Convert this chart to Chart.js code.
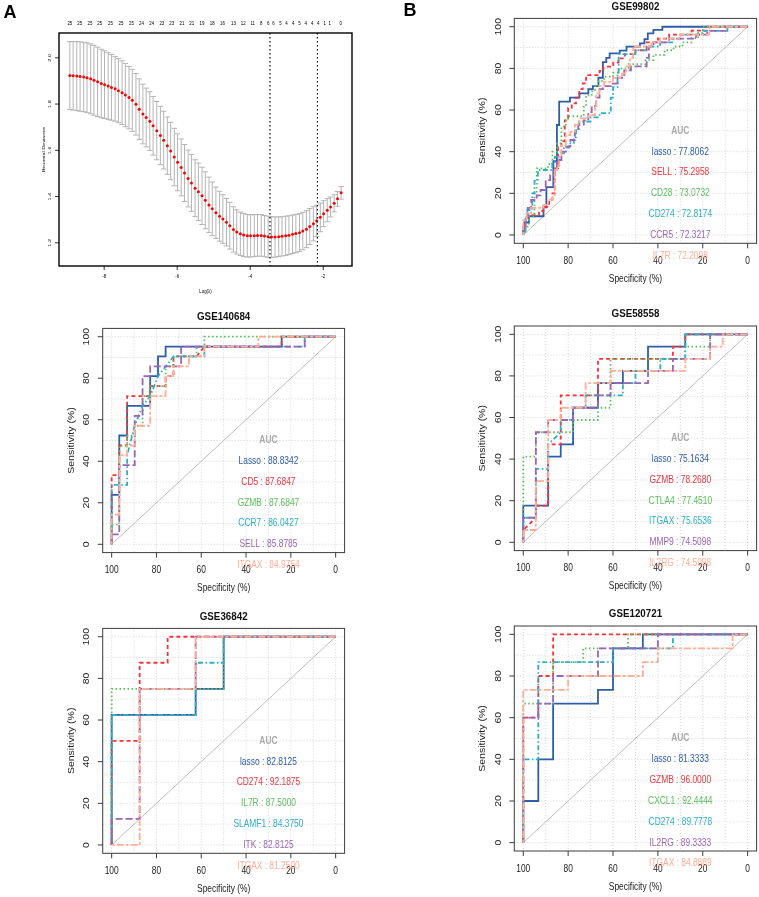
<!DOCTYPE html>
<html>
<head>
<meta charset="utf-8">
<script src="https://cdn.jsdelivr.net/npm/chart.js@4.4.1/dist/chart.umd.min.js"></script>
<style>
html,body{margin:0;padding:0;background:#ffffff;}
#wrap{position:relative;width:759px;height:897px;overflow:hidden;background:#fff;}
#wrap canvas{position:absolute;left:0;top:0;}
</style>
</head>
<body>
<div id="wrap">
<canvas id="cA" width="759" height="897"></canvas>
<canvas id="c1" width="759" height="897"></canvas>
<canvas id="c2" width="759" height="897"></canvas>
<canvas id="c3" width="759" height="897"></canvas>
<canvas id="c4" width="759" height="897"></canvas>
<canvas id="c5" width="759" height="897"></canvas>
</div>
<script>
// ===================== DATA =====================
// Panel A: LASSO cross-validation
const logLambda = [-8.94,-8.85,-8.75,-8.66,-8.56,-8.47,-8.37,-8.28,-8.18,-8.08,
  -7.99,-7.89,-7.80,-7.70,-7.61,-7.51,-7.42,-7.32,-7.23,-7.13,
  -7.04,-6.94,-6.85,-6.75,-6.66,-6.56,-6.46,-6.37,-6.27,-6.18,
  -6.08,-5.99,-5.89,-5.80,-5.70,-5.61,-5.51,-5.42,-5.32,-5.23,
  -5.13,-5.04,-4.94,-4.84,-4.75,-4.65,-4.56,-4.46,-4.37,-4.27,
  -4.18,-4.08,-3.99,-3.89,-3.80,-3.70,-3.61,-3.51,-3.42,-3.32,
  -3.22,-3.13,-3.03,-2.94,-2.84,-2.75,-2.65,-2.56,-2.46,-2.37,
  -2.27,-2.18,-2.08,-1.99,-1.89,-1.80,-1.70,-1.61,-1.51];
const cvm = [1.923,1.922,1.921,1.919,1.917,1.914,1.909,1.903,1.896,1.889,
  1.884,1.878,1.872,1.866,1.858,1.849,1.839,1.828,1.816,1.799,
  1.778,1.757,1.742,1.726,1.706,1.685,1.664,1.644,1.620,1.597,
  1.571,1.548,1.526,1.502,1.478,1.459,1.436,1.421,1.403,1.384,
  1.364,1.347,1.330,1.315,1.303,1.289,1.274,1.258,1.247,1.239,
  1.234,1.230,1.230,1.231,1.232,1.232,1.229,1.226,1.225,1.225,
  1.226,1.228,1.230,1.233,1.237,1.240,1.244,1.251,1.259,1.270,
  1.282,1.295,1.310,1.326,1.341,1.355,1.371,1.390,1.416];
const cvsd = [0.147,0.148,0.149,0.150,0.150,0.151,0.151,0.151,0.150,0.148,
  0.146,0.144,0.142,0.140,0.139,0.138,0.137,0.135,0.134,0.133,
  0.131,0.129,0.127,0.127,0.127,0.126,0.126,0.125,0.124,0.124,
  0.124,0.123,0.123,0.123,0.123,0.123,0.123,0.124,0.124,0.123,
  0.120,0.116,0.111,0.108,0.105,0.103,0.101,0.098,0.096,0.094,
  0.093,0.092,0.091,0.091,0.090,0.090,0.089,0.089,0.088,0.087,
  0.086,0.085,0.085,0.084,0.083,0.083,0.082,0.081,0.080,0.078,
  0.074,0.068,0.062,0.056,0.050,0.043,0.037,0.032,0.027];
const lambdaLines = [-3.46, -2.16];
const nzeroPos = [-8.94,-8.67,-8.39,-8.12,-7.83,-7.54,-7.25,-6.98,-6.70,-6.42,-6.15,-5.87,-5.60,-5.32,-5.04,-4.76,
  -4.46,-4.19,-3.93,-3.70,-3.51,-3.36,-3.17,-3.01,-2.82,-2.65,-2.48,-2.30,-2.14,-1.96,-1.82,-1.52];
const nzeroLabels = ['25','25','25','25','25','25','25','24','24','23','23','21','21','19','18','16',
  '13','12','11','8','6','6','5','4','4','5','4','4','4','1','1','0'];
const devTicks = [1.2,1.4,1.6,1.8,2.0];
const logTicks = [-8,-6,-4,-2];

// ROC shared
const rocTicks = [0,20,40,60,80,100];
const rocGrid = [0,10,20,30,40,50,60,70,80,90,100];
const diagonal = [[100,0],[0,100]];

// GSE99802
const gse99802Genes = ['lasso','SELL','CD28','CD274','CCR5','IL7R'];
const gse99802Auc = ['77.8062','75.2958','73.0732','72.8174','72.3217','72.2098'];
const gse99802Lasso = [[100,0],[100,2],[99.5,2],[99.5,6],[97.5,6],[97.5,9],[91,9],[91,13.3],[89.7,13.3],[89.7,23],[86.6,23],[86.6,35.5],[85,35.5],[85,52.8],[84,52.8],[84,64],[79.2,64],[79.2,66],[75,66],[75,68],[71,68],[71,70],[69,70],[69,71.5],[66.5,71.5],[66.5,75.5],[64.5,75.5],[64.5,83],[63,83],[63,85],[61.5,85],[61.5,87.2],[57,87.2],[57,88.5],[54,88.5],[54,90.4],[48,90.4],[48,92],[46,92],[46,94],[44.5,94],[44.5,96.8],[42,96.8],[42,98.5],[38,98.5],[38,100],[0,100]];
const gse99802Sell = [[100,0],[100,4],[99,4],[99,8],[98,8],[98,9.5],[93,9.5],[93,11.5],[91,11.5],[91,13.5],[88.5,13.5],[88.5,17],[87,17],[87,20],[86,20],[86,32],[84.5,32],[84.5,42],[83,42],[83,45],[81.5,45],[81.5,55],[80,55],[80,61],[78.4,61],[78.4,63.2],[76.5,63.2],[76.5,66],[75,66],[75,70],[73.5,70],[73.5,72.8],[72,72.8],[72,76.8],[66,76.8],[66,78.8],[64.3,78.8],[64.3,80.8],[59.9,80.8],[59.9,82.8],[57.6,82.8],[57.6,84.8],[54.7,84.8],[54.7,86.8],[50,86.8],[50,88.7],[45,88.7],[45,92.5],[40,92.5],[40,94.3],[35,94.3],[35,96.2],[25,96.2],[25,98.1],[18,98.1],[18,100],[0,100]];
const gse99802Cd28 = [[100,0],[100,1.5],[99,1.5],[99,4],[97.5,4],[97.5,9],[95,9],[95,20],[94,20],[94,32],[89,32],[89,34],[87,34],[87,40],[85,40],[85,44],[83,44],[83,52],[81,52],[81,55],[80,55],[80,57],[73,57],[73,62],[72,62],[72,67],[69.5,67],[69.5,69],[68,69],[68,71.5],[66.5,71.5],[66.5,74],[64,74],[64,76],[60,76],[60,78],[57.5,78],[57.5,80],[53,80],[53,82],[45.5,82],[45.5,84],[42,84],[42,86.5],[37,86.5],[37,88.7],[33,88.7],[33,90.5],[29,90.5],[29,92.5],[25,92.5],[25,94.5],[22,94.5],[22,97],[20,97],[20,100],[0,100]];
const gse99802Cd274 = [[100,0],[100,2],[99,2],[99,8],[98.2,8],[98.2,12],[96,12],[96,20],[95,20],[95,26],[93.5,26],[93.5,31.2],[87.1,31.2],[87.1,35],[86,35],[86,37.5],[84.8,37.5],[84.8,39.2],[81.9,39.2],[81.9,42],[79.6,42],[79.6,44],[77.5,44],[77.5,47],[76.5,47],[76.5,51],[75,51],[75,54.5],[70,54.5],[70,56.5],[66,56.5],[66,58.5],[61,58.5],[61,66],[60,66],[60,71],[58,71],[58,78],[57.5,78],[57.5,86.8],[50,86.8],[50,88.7],[45,88.7],[45,90.5],[39,90.5],[39,92.5],[33,92.5],[33,94.3],[30,94.3],[30,96.2],[20,96.2],[20,98],[9,98],[9,100],[0,100]];
const gse99802Ccr5 = [[100,0],[100,4],[99,4],[99,8.5],[98,8.5],[98,13],[96.5,13],[96.5,16.8],[94,16.8],[94,19],[92.3,19],[92.3,21.6],[90,21.6],[90,26.4],[88,26.4],[88,28.8],[86,28.8],[86,32],[85,32],[85,36],[83,36],[83,40],[81,40],[81,42.4],[79,42.4],[79,45.6],[77,45.6],[77,50],[75.5,50],[75.5,53],[73,53],[73,55],[71,55],[71,59],[69.5,59],[69.5,62],[67.5,62],[67.5,66],[66,66],[66,70],[64.5,70],[64.5,71.5],[61,71.5],[61,72.7],[58,72.7],[58,75.5],[55,75.5],[55,79],[52,79],[52,81],[45,81],[45,85],[44,85],[44,90.5],[42,90.5],[42,92.5],[35,92.5],[35,94.3],[23,94.3],[23,96.2],[18,96.2],[18,98],[10,98],[10,100],[0,100]];
const gse99802Il7r = [[100,0],[100,7],[98.5,7],[98.5,10.5],[96.5,10.5],[96.5,13],[91,13],[91,14.5],[89,14.5],[89,17],[87,17],[87,19],[86,19],[86,31],[85,31],[85,33],[84,33],[84,37.5],[83,37.5],[83,43],[81,43],[81,48],[79,48],[79,49.5],[77,49.5],[77,53],[75,53],[75,56],[71,56],[71,57.5],[68,57.5],[68,61],[67.5,61],[67.5,68],[66,68],[66,71.5],[64,71.5],[64,73.5],[60,73.5],[60,75.5],[56,75.5],[56,77.5],[54,77.5],[54,81],[52.5,81],[52.5,85],[51,85],[51,90.5],[43,90.5],[43,92.5],[39,92.5],[39,94.3],[30,94.3],[30,96.2],[17,96.2],[17,100],[0,100]];

// GSE140684
const gse140684Genes = ['Lasso','CD5','GZMB','CCR7','SELL','ITGAX'];
const gse140684Auc = ['88.8342','87.6847','87.6847','86.0427','85.8785','84.9754'];
const gse140684Lasso = [[100,0],[100,23.8],[96.6,23.8],[96.6,52.4],[93.1,52.4],[93.1,66.7],[82.8,66.7],[82.8,81],[79.3,81],[79.3,90.5],[75.9,90.5],[75.9,95.2],[24.1,95.2],[24.1,100],[0,100]];
const gse140684Cd5 = [[100,0],[100,33.3],[96.6,33.3],[96.6,47.6],[93.1,47.6],[93.1,71.4],[82.8,71.4],[82.8,76.2],[75.9,76.2],[75.9,81],[72.4,81],[72.4,90.5],[62.1,90.5],[58.6,95.2],[24.1,95.2],[24.1,100],[0,100]];
const gse140684Gzmb = [[100,0],[100,9.5],[96.6,9.5],[96.6,47.6],[93.1,47.6],[93.1,52.4],[89.7,52.4],[89.7,57.1],[86.2,57.1],[86.2,71.4],[82.8,71.4],[82.8,76.2],[75.9,76.2],[75.9,85.7],[72.4,85.7],[72.4,90.5],[62.1,90.5],[62.1,95.2],[58.6,95.2],[58.6,100],[0,100]];
const gse140684Ccr7 = [[100,0],[100,28.6],[93.1,28.6],[93.1,42.9],[89.7,57.1],[86.2,66.7],[82.8,71.4],[79.3,81],[72.4,90.5],[58.6,90.5],[58.6,95.2],[13.8,95.2],[13.8,100],[0,100]];
const gse140684Sell = [[100,0],[100,4.8],[96.6,4.8],[96.6,38.1],[89.7,38.1],[89.7,61.9],[86.2,61.9],[86.2,81],[82.8,81],[82.8,85.7],[69,85.7],[69,95.2],[13.8,95.2],[13.8,100],[0,100]];
const gse140684Itgax = [[100,0],[100,14.3],[96.6,14.3],[96.6,42.9],[93.1,42.9],[93.1,47.6],[89.7,47.6],[89.7,57.1],[82.8,57.1],[82.8,71.4],[75.9,71.4],[75.9,81],[72.4,81],[72.4,85.7],[65.5,85.7],[65.5,90.5],[58.6,90.5],[58.6,95.2],[34.5,95.2],[34.5,100],[0,100]];

// GSE58558
const gse58558Genes = ['lasso','GZMB','CTLA4','ITGAX','MMP9','IL2RG'];
const gse58558Auc = ['75.1634','78.2680','77.4510','75.6536','74.5098','74.5098'];
const gse58558Lasso = [[100,0],[100,17.6],[88.9,17.6],[88.9,41.2],[83.3,41.2],[83.3,47.1],[77.8,47.1],[77.8,64.7],[66.7,64.7],[66.7,76.5],[55.6,76.5],[55.6,82.4],[44.4,82.4],[44.4,94.1],[27.8,94.1],[27.8,100],[0,100]];
const gse58558Gzmb = [[100,0],[100,5.9],[94.4,11.8],[94.4,17.6],[88.9,17.6],[88.9,47.1],[83.3,47.1],[83.3,70.6],[66.7,70.6],[66.7,88.2],[33.3,88.2],[33.3,94.1],[27.8,94.1],[27.8,100],[0,100]];
const gse58558Ctla4 = [[100,0],[100,41.2],[94.4,41.2],[94.4,52.9],[77.8,52.9],[77.8,58.8],[66.7,58.8],[66.7,64.7],[61.1,64.7],[61.1,88.2],[27.8,88.2],[27.8,94.1],[16.7,94.1],[16.7,100],[0,100]];
const gse58558Itgax = [[100,0],[100,11.8],[94.4,11.8],[94.4,35.3],[88.9,35.3],[88.9,47.1],[83.3,52.9],[83.3,58.8],[77.8,58.8],[77.8,64.7],[72.2,64.7],[72.2,70.6],[55.6,70.6],[55.6,76.5],[50,76.5],[50,82.4],[38.9,82.4],[38.9,88.2],[27.8,88.2],[27.8,100],[0,100]];
const gse58558Mmp9 = [[100,0],[100,11.8],[94.4,11.8],[94.4,52.9],[88.9,52.9],[88.9,58.8],[77.8,58.8],[77.8,64.7],[66.7,64.7],[66.7,70.6],[61.1,70.6],[61.1,76.5],[44.4,76.5],[44.4,82.4],[33.3,82.4],[33.3,88.2],[16.7,88.2],[16.7,100],[0,100]];
const gse58558Il2rg = [[100,0],[100,5.9],[94.4,5.9],[94.4,29.4],[88.9,29.4],[88.9,58.8],[83.3,58.8],[83.3,64.7],[72.2,64.7],[72.2,76.5],[61.1,76.5],[61.1,82.4],[27.8,82.4],[27.8,88.2],[16.7,88.2],[16.7,94.1],[11.1,94.1],[11.1,100],[0,100]];

// GSE36842
const gse36842Genes = ['lasso','CD274','IL7R','SLAMF1','ITK','ITGAX'];
const gse36842Auc = ['82.8125','92.1875','87.5000','84.3750','82.8125','81.2500'];
const gse36842Lasso = [[100,0],[100,62.5],[62.5,62.5],[62.5,75],[50,75],[50,100],[0,100]];
const gse36842Cd274 = [[100,0],[100,50],[87.5,50],[87.5,87.5],[75,87.5],[75,100],[0,100]];
const gse36842Il7r = [[100,0],[100,75],[50,75],[50,100],[0,100]];
const gse36842Slamf1 = [[100,0],[100,62.5],[62.5,62.5],[62.5,87.5],[50,87.5],[50,100],[0,100]];
const gse36842Itk = [[100,0],[100,12.5],[87.5,12.5],[87.5,75],[62.5,75],[62.5,100],[0,100]];
const gse36842Itgax = [[100,0],[87.5,0],[87.5,75],[62.5,75],[62.5,100],[0,100]];

// GSE120721
const gse120721Genes = ['lasso','GZMB','CXCL1','CD274','IL2RG','ITGAX'];
const gse120721Auc = ['81.3333','96.0000','92.4444','89.7778','89.3333','84.8889'];
const gse120721Lasso = [[100,0],[100,20],[93.3,20],[93.3,40],[86.7,40],[86.7,66.7],[66.7,66.7],[66.7,73.3],[60,73.3],[60,93.3],[46.7,93.3],[46.7,100],[0,100]];
const gse120721Gzmb = [[100,0],[100,60],[93.3,60],[93.3,80],[86.7,80],[86.7,100],[0,100]];
const gse120721Cxcl1 = [[100,0],[100,66.7],[86.7,66.7],[86.7,86.7],[73.3,86.7],[73.3,93.3],[53.3,93.3],[53.3,100],[0,100]];
const gse120721Cd274 = [[100,0],[100,40],[93.3,40],[93.3,86.7],[60,86.7],[60,93.3],[33.3,93.3],[33.3,100],[0,100]];
const gse120721Il2rg = [[100,0],[100,60],[93.3,60],[93.3,66.7],[86.7,66.7],[86.7,80],[66.7,80],[66.7,93.3],[40,93.3],[40,100],[0,100]];
const gse120721Itgax = [[100,0],[100,73.3],[80,73.3],[80,80],[46.7,80],[46.7,86.7],[40,86.7],[40,93.3],[6.7,93.3],[6.7,100],[0,100]];

// ===================== STYLE / LAYOUT =====================
const FONT = '"Liberation Sans", Arial, Helvetica, sans-serif';
const SX = 0.8;
const curveColors = ['#2D5EA7','#F5333D','#5CBD5C','#2CAEC6','#9B65B5','#FFAE95'];
const curveDashes = [[], [4,3], [1.5,2.5], [1.5,2.5,5,2.5], [7,3], [3,2,7,2]];
const aucGray = '#AAAAAA';

const panels = [
  {id:'c1', title:'GSE99802', genes:gse99802Genes, auc:gse99802Auc,
   curves:[gse99802Lasso,gse99802Sell,gse99802Cd28,gse99802Cd274,gse99802Ccr5,gse99802Il7r],
   pad:{left:514.3, top:18.4, right:2.4, bottom:653.7}, letter:'B'},
  {id:'c2', title:'GSE140684', genes:gse140684Genes, auc:gse140684Auc,
   curves:[gse140684Lasso,gse140684Cd5,gse140684Gzmb,gse140684Ccr7,gse140684Sell,gse140684Itgax],
   pad:{left:102.7, top:328.4, right:414.4, bottom:344.4}},
  {id:'c3', title:'GSE58558', genes:gse58558Genes, auc:gse58558Auc,
   curves:[gse58558Lasso,gse58558Gzmb,gse58558Ctla4,gse58558Itgax,gse58558Mmp9,gse58558Il2rg],
   pad:{left:514.3, top:326, right:2.4, bottom:346.4}},
  {id:'c4', title:'GSE36842', genes:gse36842Genes, auc:gse36842Auc,
   curves:[gse36842Lasso,gse36842Cd274,gse36842Il7r,gse36842Slamf1,gse36842Itk,gse36842Itgax],
   pad:{left:102.7, top:628.4, right:414.4, bottom:43.7}},
  {id:'c5', title:'GSE120721', genes:gse120721Genes, auc:gse120721Auc,
   curves:[gse120721Lasso,gse120721Gzmb,gse120721Cxcl1,gse120721Cd274,gse120721Il2rg,gse120721Itgax],
   pad:{left:514.3, top:626, right:2.4, bottom:46}}
];

function drawText(ctx, s, x, y, size, color, opts) {
  opts = opts || {};
  ctx.save();
  ctx.translate(x, y);
  ctx.scale(opts.sx !== undefined ? opts.sx : SX, 1);
  if (opts.rot) ctx.rotate(-Math.PI / 2);
  ctx.font = (opts.bold ? 'bold ' : '') + size + 'px ' + FONT;
  ctx.fillStyle = color;
  ctx.textAlign = opts.align || 'center';
  ctx.textBaseline = 'middle';
  ctx.fillText(s, 0, 0);
  ctx.restore();
}
function seg(ctx, x1, y1, x2, y2) { ctx.moveTo(x1, y1); ctx.lineTo(x2, y2); }

const baseOptions = (pad, xs, ys) => ({
  responsive: false, animation: false, devicePixelRatio: 1, events: [],
  layout: {padding: pad},
  plugins: {legend: {display: false}, tooltip: {enabled: false}, title: {display: false}},
  scales: {x: Object.assign({type: 'linear', display: false}, xs), y: Object.assign({type: 'linear', display: false}, ys)}
});

// ===================== PANEL A =====================
(function () {
  const xr = Math.max(...logLambda) - Math.min(...logLambda);
  const up = cvm.map((v, i) => v + cvsd[i]);
  const lo = cvm.map((v, i) => v - cvsd[i]);
  const yMin = Math.min(...lo), yMax = Math.max(...up), yr = yMax - yMin;
  const decor = {
    id: 'lassoDecor',
    beforeDatasetsDraw(chart) {
      const {ctx, scales: {x, y}} = chart;
      const barw = xr * 0.01;
      ctx.save();
      ctx.strokeStyle = '#B4B4B4';
      ctx.lineWidth = 1;
      ctx.beginPath();
      logLambda.forEach((lv, i) => {
        const px = x.getPixelForValue(lv);
        const pu = y.getPixelForValue(up[i]);
        const pl = y.getPixelForValue(lo[i]);
        const x0 = x.getPixelForValue(lv - barw), x1 = x.getPixelForValue(lv + barw);
        seg(ctx, px, pu, px, pl);
        seg(ctx, x0, pu, x1, pu);
        seg(ctx, x0, pl, x1, pl);
      });
      ctx.stroke();
      ctx.restore();
    },
    afterDatasetsDraw(chart) {
      const {ctx, chartArea: a, scales: {x}} = chart;
      ctx.save();
      ctx.strokeStyle = '#000';
      ctx.lineWidth = 1.2;
      ctx.setLineDash([1.5, 2.5]);
      ctx.beginPath();
      lambdaLines.forEach(v => { const px = x.getPixelForValue(v); seg(ctx, px, a.top, px, a.bottom); });
      ctx.stroke();
      ctx.restore();
    },
    afterDraw(chart) {
      const {ctx, chartArea: a, scales: {x, y}} = chart;
      ctx.save();
      ctx.strokeStyle = '#000';
      ctx.lineWidth = 1.4;
      ctx.strokeRect(a.left, a.top, a.right - a.left, a.bottom - a.top);
      ctx.lineWidth = 0.8;
      ctx.beginPath();
      logTicks.forEach(v => { const px = x.getPixelForValue(v); seg(ctx, px, a.bottom, px, a.bottom + 4); });
      devTicks.forEach(v => { const py = y.getPixelForValue(v); seg(ctx, a.left - 4, py, a.left, py); });
      ctx.stroke();
      ctx.restore();
      logTicks.forEach(v => drawText(ctx, String(v), x.getPixelForValue(v), a.bottom + 10, 5.5, '#000'));
      devTicks.forEach(v => drawText(ctx, v.toFixed(1), a.left - 9.7, y.getPixelForValue(v), 5.5, '#000', {rot: true}));
      nzeroLabels.forEach((s, i) => drawText(ctx, s, x.getPixelForValue(nzeroPos[i]), a.top - 10, 5.5, '#000'));
      drawText(ctx, 'Log(\u03bb)', (a.left + a.right) / 2, a.bottom + 25, 5.5, '#000');
      drawText(ctx, 'Binomial Deviance', a.left - 15, (a.top + a.bottom) / 2, 5.5, '#000', {rot: true});
      drawText(ctx, 'A', 10, 13, 18, '#000', {bold: true, sx: 1});
    }
  };
  new Chart(document.getElementById('cA'), {
    type: 'scatter',
    data: {datasets: [{
      data: logLambda.map((v, i) => ({x: v, y: cvm[i]})),
      pointRadius: 1.5, pointBackgroundColor: '#FF0000', pointBorderWidth: 0, showLine: false
    }]},
    options: baseOptions({left: 59, top: 33, right: 407, bottom: 631},
      {min: Math.min(...logLambda) - 0.04 * xr, max: Math.max(...logLambda) + 0.04 * xr},
      {min: yMin - 0.04 * yr, max: yMax + 0.04 * yr}),
    plugins: [decor]
  });
})();

// ===================== ROC PANELS =====================
function rocDecor(p) {
  return {
    id: 'rocDecor',
    beforeDatasetsDraw(chart) {
      const {ctx, chartArea: a, scales: {x, y}} = chart;
      ctx.save();
      ctx.strokeStyle = '#D4D4D4';
      ctx.lineWidth = 1;
      ctx.setLineDash([1, 2]);
      ctx.beginPath();
      rocGrid.forEach(v => {
        const px = x.getPixelForValue(v), py = y.getPixelForValue(v);
        seg(ctx, px, a.top, px, a.bottom);
        seg(ctx, a.left, py, a.right, py);
      });
      ctx.stroke();
      ctx.restore();
    },
    afterDraw(chart) {
      const {ctx, chartArea: a, scales: {x, y}} = chart;
      ctx.save();
      ctx.strokeStyle = '#3C3C3C';
      ctx.lineWidth = 1;
      ctx.strokeRect(a.left, a.top, a.right - a.left, a.bottom - a.top);
      ctx.beginPath();
      rocTicks.forEach(v => {
        const px = x.getPixelForValue(v), py = y.getPixelForValue(v);
        seg(ctx, px, a.bottom, px, a.bottom + 5);
        seg(ctx, a.left - 5, py, a.left, py);
      });
      ctx.stroke();
      ctx.restore();
      rocTicks.forEach(v => {
        drawText(ctx, String(v), x.getPixelForValue(v), a.bottom + 18, 10.5, '#222');
        drawText(ctx, String(v), a.left - 16, y.getPixelForValue(v), 10.5, '#222', {rot: true});
      });
      drawText(ctx, 'Specificity (%)', (a.left + a.right) / 2, a.bottom + 36, 10.5, '#222');
      drawText(ctx, 'Sensitivity (%)', a.left - 31.5, (a.top + a.bottom) / 2, 10.5, '#222', {rot: true});
      drawText(ctx, p.title, (a.left + a.right) / 2, a.top - 12, 11.5, '#111', {bold: true, sx: 0.85});
      const ax = x.getPixelForValue(30);
      drawText(ctx, 'AUC', ax, y.getPixelForValue(50), 10.5, aucGray, {bold: true});
      p.genes.forEach((g, i) => {
        drawText(ctx, g + ' : ' + p.auc[i], ax, y.getPixelForValue(40 - 10 * i), 10.5, curveColors[i]);
      });
      if (p.letter) drawText(ctx, p.letter, 410, 11, 18, '#000', {bold: true, sx: 1});
    }
  };
}

panels.forEach(p => {
  const n = p.curves.length;
  const datasets = p.curves.map((pts, i) => ({
    data: pts.map(q => ({x: q[0], y: q[1]})),
    showLine: true, borderColor: curveColors[i], borderWidth: 1.8, borderDash: curveDashes[i],
    pointRadius: 0, fill: false, tension: 0, order: n - i
  }));
  datasets.push({
    data: diagonal.map(q => ({x: q[0], y: q[1]})),
    showLine: true, borderColor: '#BEBEBE', borderWidth: 1, pointRadius: 0, fill: false, order: 99
  });
  new Chart(document.getElementById(p.id), {
    type: 'scatter',
    data: {datasets},
    options: baseOptions(p.pad, {min: -4, max: 104, reverse: true}, {min: -4, max: 104}),
    plugins: [rocDecor(p)]
  });
});
</script>
</body>
</html>
